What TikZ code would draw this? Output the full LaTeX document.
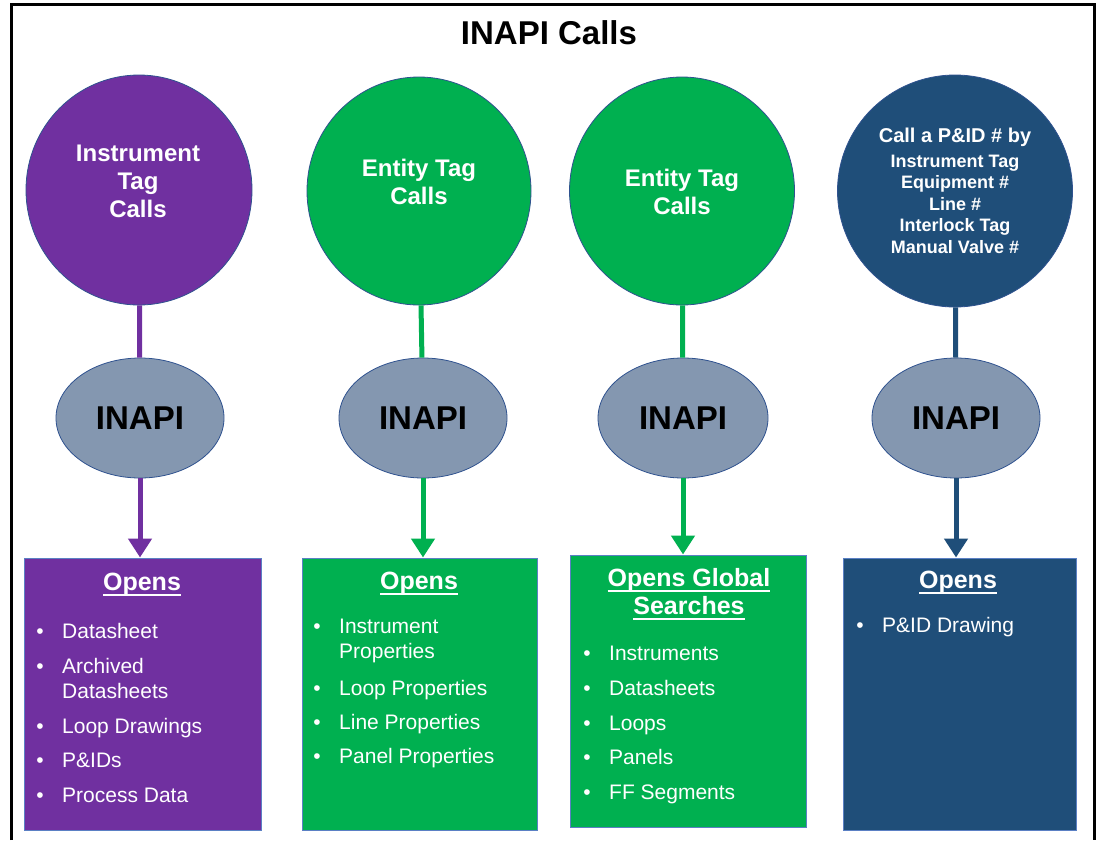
\documentclass[tikz,border=0pt]{standalone}
\usepackage{fontspec}
\setmainfont{Liberation Sans}
\usetikzlibrary{shapes.geometric,arrows.meta}
\definecolor{colpurple}{HTML}{7030A0}
\definecolor{colgreen}{HTML}{00B050}
\definecolor{colnavy}{HTML}{1F4E79}
\definecolor{colgrey}{HTML}{8497B0}
\definecolor{coledge}{HTML}{2F528F}
\definecolor{colbox}{HTML}{5B80C4}
\newsavebox\hdrbox
\newcommand{\hdrline}[1]{\sbox\hdrbox{#1}\rlap{\rule[-5.5pt]{\wd\hdrbox}{1.8pt}}\usebox\hdrbox}
\newcommand{\optitem}[4]{ \node[dot] (#1d) at (#2-22,#3+7.5){\textbullet}; \node[opt] (#1) at (#2,#3){#4};}
\newcommand{\optcont}[4]{ \node[opt] (#1) at (#2,#3){#4};}
\tikzset{
  callout/.style={shape=ellipse, draw=coledge, line width=0.8pt, inner sep=0pt},
  inapi/.style={shape=ellipse, draw=coledge, fill=colgrey, line width=0.8pt, inner sep=0pt, minimum width=168pt, minimum height=120pt, font=\fontsize{33}{38}\selectfont\bfseries},
  opensbox/.style={shape=rectangle, draw=colbox, line width=1pt, inner sep=0pt, minimum height=272pt},
  ctext/.style={text=white, align=center, inner sep=0pt, font=\fontsize{24}{28}\selectfont\bfseries},
  hdr/.style={text=white, anchor=base, inner sep=0pt, font=\fontsize{25}{28}\selectfont\bfseries},
  opt/.style={text=white, anchor=west, inner sep=0pt, text height=15pt, text depth=0pt, font=\fontsize{21}{25}\selectfont},
  dot/.style={text=white, anchor=base, inner sep=0pt, font=\fontsize{21}{25}\selectfont},
  link/.style={line width=5pt},
  tip/.style={line width=5pt, -{Triangle[width=23pt,length=19pt]}}
}
\begin{document}
\begin{tikzpicture}[x=1pt,y=-1pt]
        \fill[white] (0,0) rectangle (1099,837);
        \draw[line width=3pt] (11,840) -- (11,4) -- (1094,4) -- (1094,840);
        \node[font=\fontsize{33}{38}\selectfont\bfseries] (title) at (549,33){INAPI Calls};

        % callers
        \node[callout,fill=colpurple,minimum width=226pt,minimum height=230pt] (c1) at (139,190){};
        \node[callout,fill=colgreen,minimum width=224pt,minimum height=228pt] (c2) at (419,191){};
        \node[callout,fill=colgreen,minimum width=225pt,minimum height=228pt] (c3) at (682,191){};
        \node[callout,fill=colnavy,minimum width=235pt,minimum height=232pt] (c4) at (955,191){};
        \node[ctext] (c1t) at (138,181){Instrument\\Tag\\Calls};
        \node[ctext] (c2t) at (419,182){Entity Tag\\Calls};
        \node[ctext] (c3t) at (682,191.5){Entity Tag\\Calls};
        \node[ctext,font=\fontsize{20}{24}\selectfont\bfseries] (c4t) at (955,137){Call a P\&ID \# by};
        \node[ctext,font=\fontsize{18}{21.5}\selectfont\bfseries] (c4l) at (955,204){Instrument Tag\\Equipment \#\\Line \#\\Interlock Tag\\Manual Valve \#};

        % inapi
        \node[inapi] (e1) at (140,418){INAPI};
        \node[inapi] (e2) at (423,418){INAPI};
        \node[inapi,minimum width=170pt] (e3) at (683,418){INAPI};
        \node[inapi] (e4) at (956,418){INAPI};

        % boxes
        \node[opensbox,fill=colpurple,minimum width=237pt] (b1) at (142.5,694){};
        \node[opensbox,fill=colgreen,minimum width=235pt] (b2) at (419.5,694){};
        \node[opensbox,fill=colgreen,minimum width=236pt] (b3) at (688.5,691){};
        \node[opensbox,fill=colnavy,minimum width=233pt] (b4) at (959.5,694){};

        % links
        \draw[link,colpurple] (c1) -- (e1);
        \draw[link,colgreen] (c2) -- (e2);
        \draw[link,colgreen] (c3) -- (e3);
        \draw[link,colnavy] (c4) -- (e4);
        \draw[tip,colpurple] (e1.south) -- (e1.south |- b1.north);
        \draw[tip,colgreen] (e2.south) -- (e2.south |- b2.north);
        \draw[tip,colgreen] (e3.south) -- (e3.south |- b3.north);
        \draw[tip,colnavy] (e4.south) -- (e4.south |- b4.north);

        % box1
        \node[hdr] (h1) at (142,590){\hdrline{Opens}};
        \optitem{i11}{62}{630.5}{Datasheet}
        \optitem{i12}{62}{666}{Archived}
        \optcont{i12b}{62}{690.5}{Datasheets}
        \optitem{i13}{62}{725.5}{Loop Drawings}
        \optitem{i14}{62}{760}{P\&IDs}
        \optitem{i15}{62}{794.5}{Process Data}
        % box2
        \node[hdr] (h2) at (419,589.5){\hdrline{Opens}};
        \optitem{i21}{339}{626}{Instrument}
        \optcont{i21b}{339}{651}{Properties}
        \optitem{i22}{339}{688}{Loop Properties}
        \optitem{i23}{339}{721.5}{Line Properties}
        \optitem{i24}{339}{755.5}{Panel Properties}
        % box3
        \node[hdr] (h3) at (689,586){\hdrline{Opens Global}};
        \node[hdr] (h3b) at (689,614){\hdrline{Searches}};
        \optitem{i31}{609}{653}{Instruments}
        \optitem{i32}{609}{688}{Datasheets}
        \optitem{i33}{609}{723}{Loops}
        \optitem{i34}{609}{757}{Panels}
        \optitem{i35}{609}{791.5}{FF Segments}
        % box4
        \node[hdr] (h4) at (958,588){\hdrline{Opens}};
        \optitem{i41}{882}{624.5}{P\&ID Drawing}
    \end{tikzpicture}
\end{document}
